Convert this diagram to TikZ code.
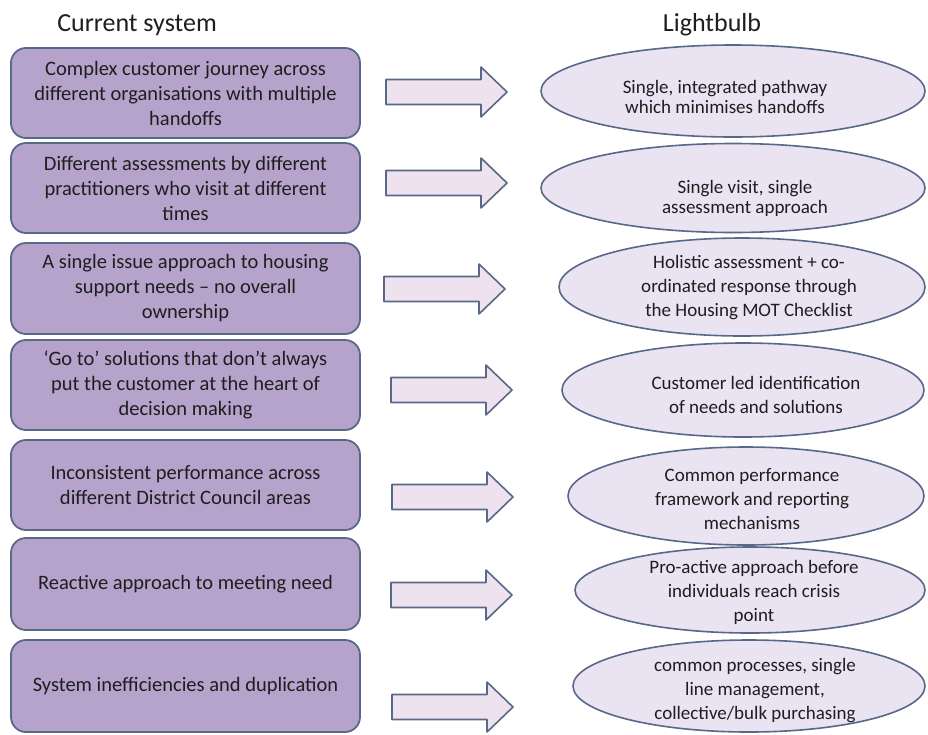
\documentclass[tikz,border=0pt]{standalone}
\usepackage{fontspec}
\setmainfont{Carlito}
\usetikzlibrary{shapes.geometric}
\definecolor{boxfill}{RGB}{182,163,204}
\definecolor{boxline}{RGB}{88,104,136}
\definecolor{ellfill}{RGB}{234,227,242}
\definecolor{arrfill}{RGB}{238,226,238}
\definecolor{txt}{RGB}{30,30,30}
\newcommand\blockarrow[2]{\draw[barrow] (#1,#2-12.5) -- ++(95,0) -- ++(0,-12.5) -- ++(26,25) -- ++(-26,25) -- ++(0,-12.5) -- ++(-95,0) -- cycle;}
\begin{document}
\begin{tikzpicture}[x=1pt,y=-1pt,
  box/.style={draw=boxline, line width=1.8pt, fill=boxfill, rounded corners=15pt,
    minimum width=349pt, align=center, font=\fontsize{20.5}{25}\selectfont, text=txt, inner sep=0pt},
  ell/.style={ellipse, draw=boxline, line width=1.6pt, fill=ellfill, inner sep=0pt},
  etxt/.style={align=center, font=\fontsize{19}{24}\selectfont, text=txt, inner sep=0pt},
  barrow/.style={draw=boxline, line width=1.6pt, fill=arrfill, line join=round},
  ttl/.style={font=\fontsize{26}{30}\selectfont, text=txt}]
\path[use as bounding box, fill=white] (0,0) rectangle (928,734);

\node[ttl] (tl) at (137,25) {Current system};
\node[ttl] (tr) at (712,25) {Lightbulb};

% left boxes
\node[box, minimum height=90pt] (b1) at (185.5,93) {Complex customer journey across\\different organisations with multiple\\handoffs};
\node[box, minimum height=90pt] (b2) at (185.5,188) {Different assessments by different\\practitioners who visit at different\\times};
\node[box, minimum height=91pt] (b3) at (185.5,288.5) {A single issue approach to housing\\support needs – no overall\\ownership};
\node[box, minimum height=90pt] (b4) at (185.5,385) {‘Go to’ solutions that don’t always\\put the customer at the heart of\\decision making};
\node[box, minimum height=90pt] (b5) at (185.5,485) {Inconsistent performance across\\different District Council areas};
\node[box, minimum height=92pt] (b6) at (185.5,584) {Reactive approach to meeting need};
\node[box, minimum height=92pt] (b7) at (185.5,686) {System inefficiencies and duplication};

% block arrows
\blockarrow{386}{92}
\blockarrow{386}{183}
\blockarrow{384}{289}
\blockarrow{391}{390}
\blockarrow{392}{497}
\blockarrow{391}{595}
\blockarrow{392}{707}

% ellipses
\node[ell, minimum width=384pt, minimum height=92pt] (e1) at (733,91) {};
\node[ell, minimum width=384pt, minimum height=89pt] (e2) at (733,188) {};
\node[ell, minimum width=366pt, minimum height=98pt] (e3) at (742,287) {};
\node[ell, minimum width=362pt, minimum height=94pt] (e4) at (743,390) {};
\node[ell, minimum width=356pt, minimum height=98pt] (e5) at (746,496) {};
\node[ell, minimum width=350pt, minimum height=86pt] (e6) at (750,590) {};
\node[ell, minimum width=352pt, minimum height=92pt] (e7) at (749,686) {};

\node[etxt, font=\fontsize{19}{20}\selectfont] (t1) at (725,97) {Single, integrated pathway\\which minimises handoffs};
\node[etxt, font=\fontsize{19}{20}\selectfont] (t2) at (745,198) {Single visit, single\\assessment approach};
\node[etxt] (t3) at (749,288) {Holistic assessment + co-\\ordinated response through\\the Housing MOT Checklist};
\node[etxt] (t4) at (756,395) {Customer led identification\\of needs and solutions};
\node[etxt] (t5) at (752,499) {Common performance\\framework and reporting\\mechanisms};
\node[etxt] (t6) at (754,592) {Pro-active approach before\\individuals reach crisis\\point};
\node[etxt] (t7) at (755,691) {common processes, single\\line management,\\collective/bulk purchasing};
\end{tikzpicture}
\end{document}
